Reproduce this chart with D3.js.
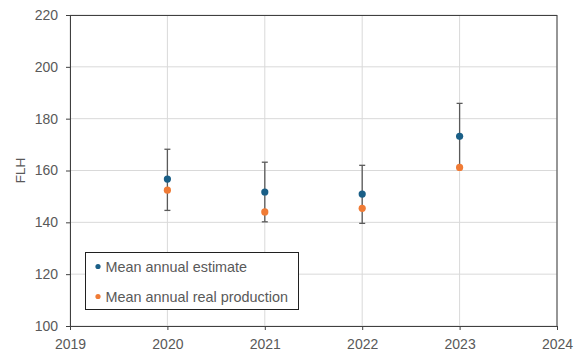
<!DOCTYPE html>
<html>
<head>
<meta charset="utf-8">
<script src="https://cdn.jsdelivr.net/npm/d3@7"></script>
<style>
  body { margin: 0; background: #fff; }
  text { font-family: "Liberation Sans", Arial, sans-serif; fill: #595959; }
</style>
</head>
<body>
<div id="chart"></div>
<script>
// data
var years = [2020, 2021, 2022, 2023];
var estimate = [156.7, 151.7, 150.9, 173.2];
var realProd = [152.4, 144.0, 145.4, 161.2];
var errHigh = [168.2, 163.2, 162.0, 185.9];
var errLow = [144.6, 140.2, 139.6, 161.2];
var yTicks = [100, 120, 140, 160, 180, 200, 220];
var xTicks = [2019, 2020, 2021, 2022, 2023, 2024];
var legendLabels = ["Mean annual estimate", "Mean annual real production"];

var W = 581, H = 356;
var margin = { top: 15, right: 24, bottom: 30, left: 70 },
    width = W - margin.left - margin.right,
    height = H - margin.top - margin.bottom;

var x = d3.scaleLinear().domain([2019, 2024]).range([0, width]);
var y = d3.scaleLinear().domain([100, 220]).range([height, 0]);

var svg = d3.select("#chart").append("svg")
    .attr("width", W)
    .attr("height", H)
    .append("g")
    .attr("transform", "translate(" + margin.left + "," + margin.top + ")");

// grid
svg.append("g").selectAll("line").data(yTicks).enter().append("line")
    .attr("x1", 0).attr("x2", width)
    .attr("y1", function (d) { return y(d); }).attr("y2", function (d) { return y(d); })
    .attr("stroke", "#d9d9d9");
svg.append("g").selectAll("line").data(xTicks).enter().append("line")
    .attr("y1", 0).attr("y2", height)
    .attr("x1", function (d) { return x(d); }).attr("x2", function (d) { return x(d); })
    .attr("stroke", "#d9d9d9");

// axes
var yAxis = svg.append("g")
    .call(d3.axisLeft(y).tickValues(yTicks).tickSize(4).tickPadding(8));
var xAxis = svg.append("g")
    .attr("transform", "translate(0," + height + ")")
    .call(d3.axisBottom(x).tickValues(xTicks).tickFormat(d3.format("d")).tickSize(4).tickPadding(9));
[yAxis, xAxis].forEach(function (a) {
    a.select(".domain").attr("stroke", "#404040");
    a.selectAll(".tick line").attr("stroke", "#404040");
    a.selectAll("text").attr("font-size", 14).attr("fill", "#595959")
        .attr("font-family", "Liberation Sans, Arial, sans-serif");
});

// frame right / top
svg.append("line").attr("x1", 0).attr("x2", width).attr("y1", 0.5).attr("y2", 0.5).attr("stroke", "#404040");
svg.append("line").attr("x1", width).attr("x2", width).attr("y1", 0).attr("y2", height).attr("stroke", "#404040");

// y title
svg.append("text")
    .attr("transform", "translate(" + (-45) + "," + (height / 2) + ") rotate(-90)")
    .attr("text-anchor", "middle")
    .attr("font-size", 13.5)
    .text("FLH");

// error bars
var eb = svg.append("g");
years.forEach(function (yr, i) {
    var cx = x(yr);
    eb.append("line").attr("x1", cx).attr("x2", cx)
        .attr("y1", y(errHigh[i])).attr("y2", y(errLow[i]))
        .attr("stroke", "#5a5a5a").attr("stroke-width", 1.3);
    [errHigh[i], errLow[i]].forEach(function (v) {
        eb.append("line").attr("x1", cx - 3).attr("x2", cx + 3)
            .attr("y1", y(v)).attr("y2", y(v))
            .attr("stroke", "#5a5a5a").attr("stroke-width", 1.3);
    });
});

var colEst = "#1a5f87", colReal = "#f07b35";

svg.append("g").selectAll("circle").data(years).enter().append("circle")
    .attr("cx", function (d) { return x(d); })
    .attr("cy", function (d, i) { return y(realProd[i]); })
    .attr("r", 3.6).attr("fill", colReal);
svg.append("g").selectAll("circle").data(years).enter().append("circle")
    .attr("cx", function (d) { return x(d); })
    .attr("cy", function (d, i) { return y(estimate[i]); })
    .attr("r", 3.6).attr("fill", colEst);

// legend
var lg = svg.append("g").attr("transform", "translate(" + 15.5 + "," + 237.5 + ")");
lg.append("rect").attr("width", 213).attr("height", 57)
    .attr("fill", "#fff").attr("stroke", "#202020");
[colEst, colReal].forEach(function (c, i) {
    lg.append("circle").attr("cx", 12.5).attr("cy", 14 + i * 30).attr("r", 2.6).attr("fill", c);
    lg.append("text").attr("x", 20).attr("y", 19 + i * 30)
        .attr("font-size", 14.4).text(legendLabels[i]);
});
</script>
</body>
</html>
